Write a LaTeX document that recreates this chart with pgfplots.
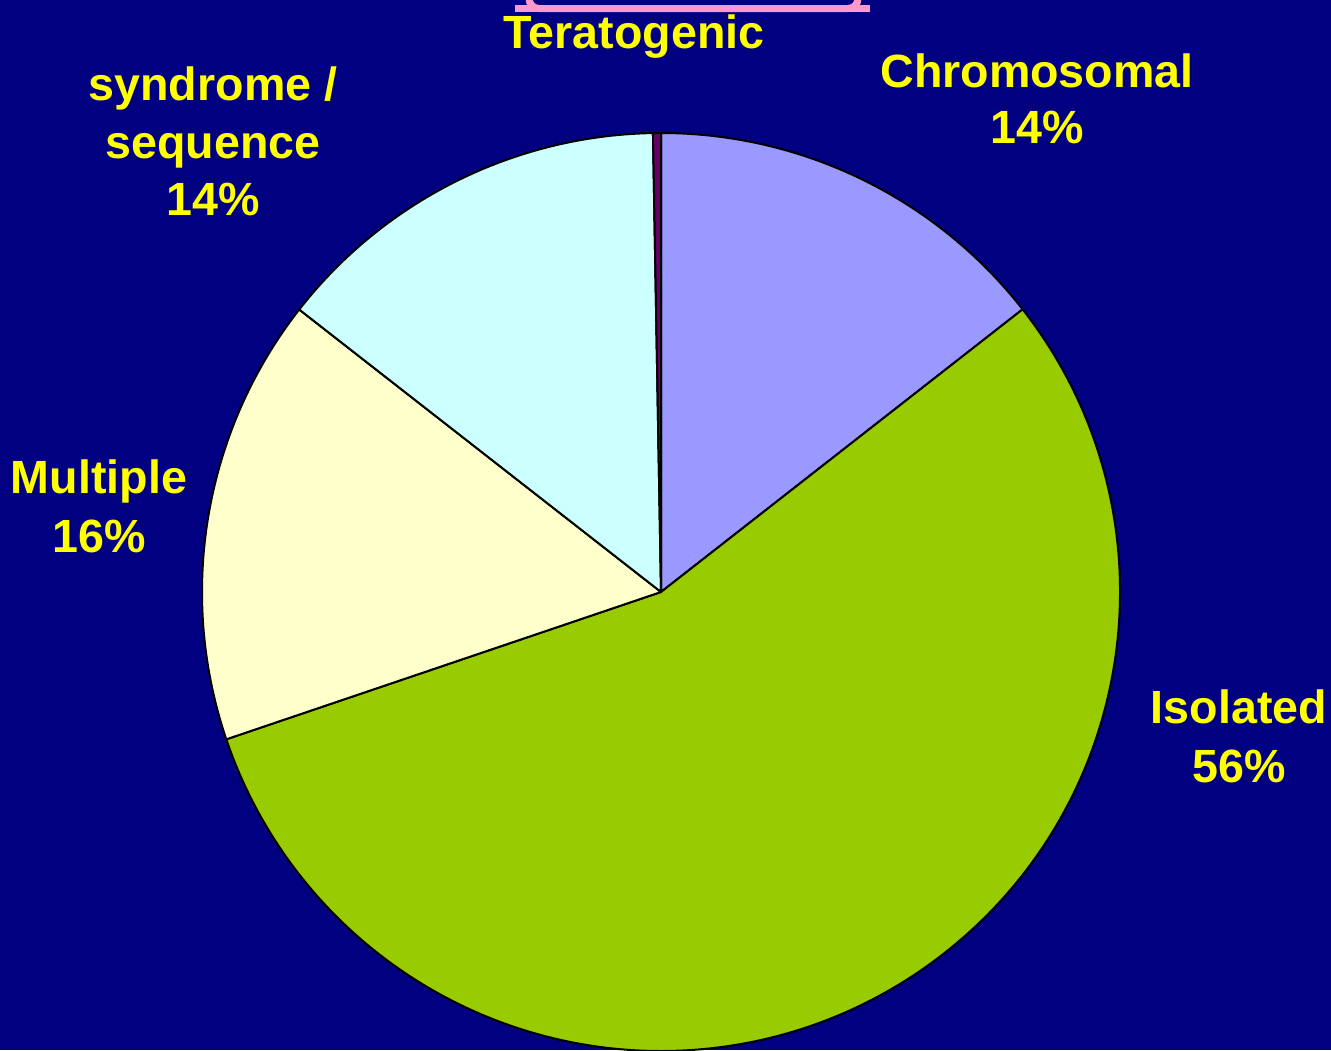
\documentclass[border=0pt]{standalone}
\usepackage{pgfplots}
\pgfplotsset{compat=1.18}
\usepackage{pgfplotstable}
\usepackage{fontspec}
\setmainfont{Liberation Sans}

\definecolor{bgnavy}{HTML}{000080}
\definecolor{lblyellow}{HTML}{FFFF00}
\definecolor{cchrom}{HTML}{9999FF}
\definecolor{cisol}{HTML}{99CC00}
\definecolor{cmult}{HTML}{FFFFCC}
\definecolor{csynd}{HTML}{CCFFFF}
\definecolor{cterat}{HTML}{660066}
\definecolor{cpink}{HTML}{FF99CC}

% shares in percent, clockwise from 12 o'clock
\pgfplotstableread{
share
14.44
55.36
15.75
14.17
0.28
}\piedata

\newcommand\getshare[2]{%
  \pgfplotstablegetelem{#1}{share}\of\piedata
  \pgfmathsetmacro#2{\pgfplotsretval}}%
\getshare{0}{\sA}\getshare{1}{\sB}\getshare{2}{\sC}\getshare{3}{\sD}\getshare{4}{\sE}%
\pgfmathsetmacro\tA{90}%
\pgfmathsetmacro\tB{\tA-3.6*\sA}%
\pgfmathsetmacro\tC{\tB-3.6*\sB}%
\pgfmathsetmacro\tD{\tC-3.6*\sC}%
\pgfmathsetmacro\tE{\tD-3.6*\sD}%
\pgfmathsetmacro\tF{\tE-3.6*\sE}%

\newcommand\slice[3]{%
  \filldraw[fill=#3, draw=black, line width=1pt, line join=round]
    (axis cs:661,592) -- ++(#1:229.5pt)
    arc[start angle=#1, end angle=#2, radius=229.5pt] -- cycle;}

\tikzset{lbl/.style={anchor=base, text=lblyellow,
  font=\bfseries\fontsize{23.3}{28}\selectfont}}

\begin{document}
\begin{tikzpicture}
\begin{axis}[
    width=665.5pt, height=525pt, scale only axis,
    xmin=0, xmax=1331, ymin=0, ymax=1050,
    y dir=reverse,
    axis lines=none, ticks=none,
  ]
  % background
  \addplot[fill=bgnavy, draw=none] coordinates {(0,0) (1331,0) (1331,1050) (0,1050)} -- cycle;
  % pink frame of the title box, cut by the top edge
  \addplot[draw=cpink, line width=3.5pt, rounded corners=5pt] coordinates {(529,-20) (529,8.5) (858,8.5) (858,-20)};
  \addplot[draw=cpink, line width=3.5pt] coordinates {(515,8.5) (870,8.5)};

  \slice{\tA}{\tB}{cchrom}
  \slice{\tB}{\tC}{cisol}
  \slice{\tC}{\tD}{cmult}
  \slice{\tD}{\tE}{csynd}
  \slice{\tE}{\tF}{cterat}

  \node[lbl] at (axis cs:634,48) {Teratogenic};
  \node[lbl] at (axis cs:1037,87) {Chromosomal};
  \node[lbl] at (axis cs:1037,143) {14\%};
  \node[lbl] at (axis cs:213,100) {syndrome /};
  \node[lbl] at (axis cs:213,158) {sequence};
  \node[lbl] at (axis cs:213,215) {14\%};
  \node[lbl] at (axis cs:99,493) {Multiple};
  \node[lbl] at (axis cs:99,552) {16\%};
  \node[lbl] at (axis cs:1239,723) {Isolated};
  \node[lbl] at (axis cs:1239,782) {56\%};
\end{axis}
\pgfresetboundingbox
\path (current axis.south west) rectangle (current axis.north east);
\end{tikzpicture}
\end{document}
